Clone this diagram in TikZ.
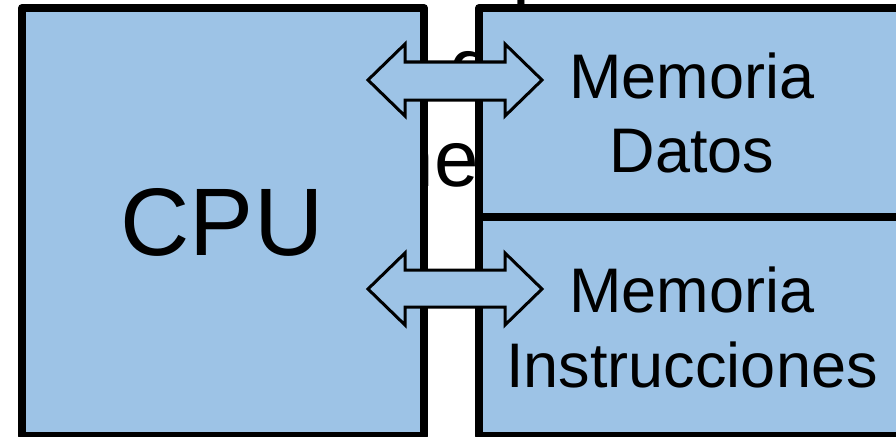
\documentclass[tikz,border=0pt]{standalone}
\usepackage{fontspec}
\setmainfont{Liberation Sans}
\definecolor{boxblue}{RGB}{157,195,230}
\begin{document}
\begin{tikzpicture}[x=1pt,y=-1pt,
  blk/.style={draw=black,line width=8pt,fill=boxblue,line join=round,inner sep=0pt},
  barrow/.style={draw=black,line width=3pt,fill=boxblue,line join=miter},
  lbl/.style={inner sep=0pt,anchor=base,font=\fontsize{63}{75}\selectfont},
  bg/.style={inner sep=0pt,anchor=base west,font=\fontsize{80}{92}\selectfont}]
\useasboundingbox (0,0) rectangle (896,436);
\clip (0,0) rectangle (896,436);
% partly hidden background text
\node[bg] (bgp) at (512,-7) {p};
\node[bg] (bgd) at (449,94) {d};
\node[bg] (bgne) at (389.5,186) {ne};
% boxes
\node[blk, minimum width=402pt, minimum height=428pt] (cpu) at (223,222) {};
\node[blk, minimum width=430pt, minimum height=209pt] (memd) at (694,112.5) {};
\node[blk, minimum width=430pt, minimum height=219pt] (memi) at (694,326.5) {};
% labels
\node[lbl, font=\fontsize{96}{110}\selectfont] (cpul) at (222,255) {CPU};
\node[lbl] (md1) at (692,98) {Memoria};
\node[lbl] (md2) at (692,172) {Datos};
\node[lbl] (mi1) at (692,312) {Memoria};
\node[lbl] (mi2) at (692,387) {Instrucciones};
% double block arrows
\draw[barrow] (368,80) -- (405,44) -- (405,62) -- (505,62) -- (505,44) -- (542,80)
  -- (505,116) -- (505,100) -- (405,100) -- (405,116) -- cycle;
\draw[barrow] (368,289) -- (405,253) -- (405,270) -- (505,270) -- (505,253) -- (542,289)
  -- (505,325) -- (505,307) -- (405,307) -- (405,325) -- cycle;
\end{tikzpicture}
\end{document}
